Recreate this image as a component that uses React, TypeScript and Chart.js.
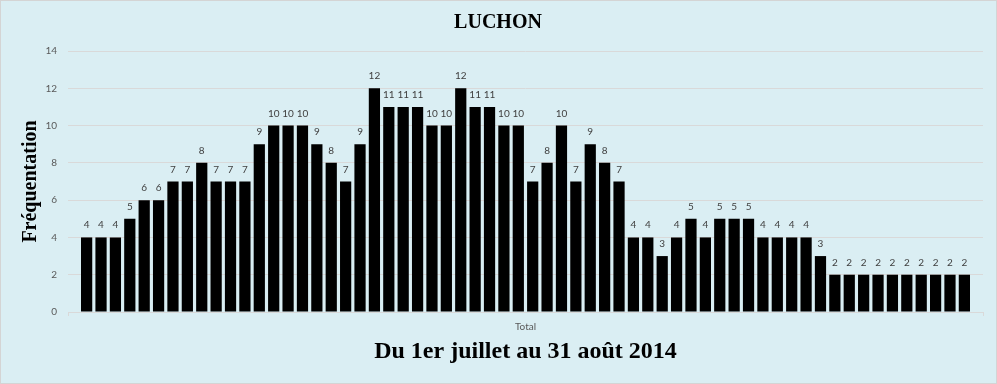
import React, { useEffect, useRef } from "react";
import { Chart, registerables } from "chart.js";

Chart.register(...registerables);

const categories: string[] = ["Total"];

// Daily attendance, 1 July -> 31 August 2014 (62 days)
const julyValues: number[] = [
  4, 4, 4, 5, 6, 6, 7, 7, 8, 7, 7, 7, 9, 10, 10, 10, 9, 8, 7, 9, 12, 11, 11, 11, 10, 10, 12, 11, 11, 10, 10,
];
const augustValues: number[] = [
  7, 8, 10, 7, 9, 8, 7, 4, 4, 3, 4, 5, 4, 5, 5, 5, 4, 4, 4, 4, 3, 2, 2, 2, 2, 2, 2, 2, 2, 2, 2,
];

const yTicks: number[] = [0, 2, 4, 6, 8, 10, 12, 14];

const chartTitle = "LUCHON";
const yTitle = "Fréquentation";
const xTitle = "Du 1er juillet au 31 août 2014";

const dayLabels: string[] = [
  ...julyValues.map((_, i) => `${i + 1} juillet`),
  ...augustValues.map((_, i) => `${i + 1} août`),
];
const allValues: number[] = [...julyValues, ...augustValues];

const valueLabelPlugin = {
  id: "valueLabels",
  afterDatasetsDraw(chart: any) {
    const ctx = chart.ctx;
    ctx.save();
    ctx.font = "10px Lato, 'Liberation Sans', sans-serif";
    ctx.fillStyle = "#404040";
    ctx.textAlign = "center";
    ctx.textBaseline = "alphabetic";
    chart.data.datasets.forEach((ds: any, i: number) => {
      const meta = chart.getDatasetMeta(i);
      meta.data.forEach((el: any, j: number) => {
        const v = ds.data[j];
        ctx.fillText(String(v), el.x, el.y - 9);
      });
    });
    ctx.restore();
  },
};

export default function App() {
  const canvasRef = useRef<HTMLCanvasElement | null>(null);

  useEffect(() => {
    if (!canvasRef.current) return;
    const chart = new Chart(canvasRef.current, {
      type: "bar",
      data: {
        labels: categories,
        datasets: allValues.map((v, i) => ({
          label: dayLabels[i],
          data: [v],
          backgroundColor: "#000000",
          borderWidth: 0,
          categoryPercentage: 0.975,
          barPercentage: 0.78,
        })),
      },
      options: {
        responsive: false,
        animation: false,
        layout: { padding: { left: 12, right: 13, top: 0, bottom: 0 } },
        plugins: {
          legend: { display: false },
          tooltip: { enabled: false },
          title: {
            display: true,
            text: chartTitle,
            color: "#000000",
            font: { family: "'Liberation Serif', 'Times New Roman', serif", size: 20, weight: "bold", lineHeight: 1.2 },
            padding: { top: 10, bottom: 16 },
          },
        },
        scales: {
          x: {
            offset: true,
            grid: {
              display: true,
              drawOnChartArea: false,
              drawTicks: true,
              tickLength: 4,
              color: "#d9d9d9",
              offset: true,
            },
            border: { display: true, color: "#d9d9d9" },
            ticks: {
              color: "#595959",
              padding: 5,
              font: { family: "Lato, 'Liberation Sans', sans-serif", size: 10 },
            },
            title: {
              display: true,
              text: xTitle,
              color: "#000000",
              font: { family: "'Liberation Serif', 'Times New Roman', serif", size: 24, weight: "bold", lineHeight: 1.2 },
              padding: { top: 0, bottom: 17 },
            },
            afterFit(scale: any) {
              scale.height = 71;
            },
          },
          y: {
            min: 0,
            max: 14,
            afterBuildTicks(scale: any) {
              scale.ticks = yTicks.map((v) => ({ value: v }));
            },
            grid: { color: "#d9d9d9", drawTicks: false },
            border: { display: false },
            ticks: {
              color: "#595959",
              padding: 11,
              font: { family: "Lato, 'Liberation Sans', sans-serif", size: 10 },
            },
            title: {
              display: true,
              text: yTitle,
              color: "#000000",
              font: { family: "'Liberation Serif', 'Times New Roman', serif", size: 20, weight: "bold", lineHeight: 1.2 },
              padding: { top: 6, bottom: 0 },
            },
            afterFit(scale: any) {
              scale.width = 55;
            },
          },
        },
      },
      plugins: [valueLabelPlugin],
    });
    return () => chart.destroy();
  }, []);

  return (
    <div
      style={{
        position: "absolute",
        left: 0,
        top: 0,
        width: 997,
        height: 384,
        boxSizing: "border-box",
        border: "1px solid #d4d4d4",
        background: "#DAEEF3",
      }}
    >
      <canvas ref={canvasRef} width={995} height={382} style={{ display: "block", width: 995, height: 382 }} />
    </div>
  );
}
